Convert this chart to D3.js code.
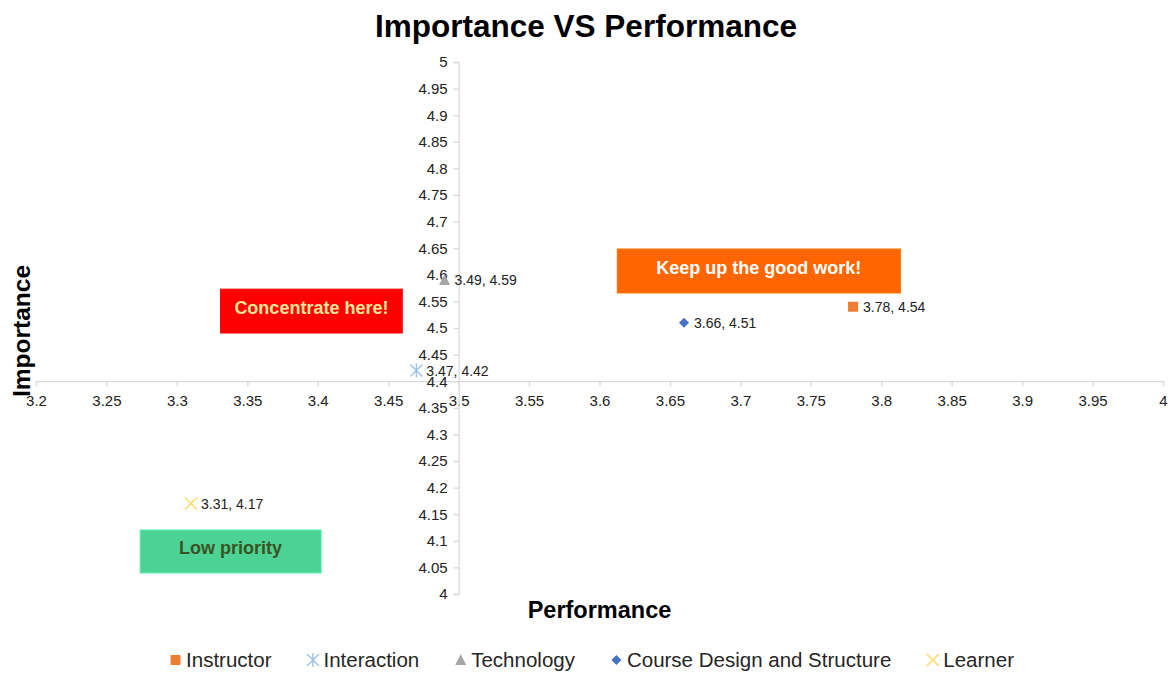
<!DOCTYPE html>
<html>
<head>
<meta charset="utf-8">
<script src="https://cdn.jsdelivr.net/npm/d3@7"></script>
<style>
  html, body { margin: 0; padding: 0; background: #fff; }
  svg { display: block; font-family: "Liberation Sans", Arial, Helvetica, sans-serif; }
</style>
</head>
<body>
<svg id="chart" width="1171" height="673"></svg>
<script>
// ---- Data ----
const seriesNames = ["Instructor", "Interaction", "Technology", "Course Design and Structure", "Learner"];
const performance = [3.78, 3.47, 3.49, 3.66, 3.31];
const importance = [4.54, 4.42, 4.59, 4.51, 4.17];
const xTicks = [3.2, 3.25, 3.3, 3.35, 3.4, 3.45, 3.5, 3.55, 3.6, 3.65, 3.7, 3.75, 3.8, 3.85, 3.9, 3.95, 4];
const yTicks = [4, 4.05, 4.1, 4.15, 4.2, 4.25, 4.3, 4.35, 4.4, 4.45, 4.5, 4.55, 4.6, 4.65, 4.7, 4.75, 4.8, 4.85, 4.9, 4.95, 5];
const annotationTexts = ["Concentrate here!", "Keep up the good work!", "Low priority"];
const annotationX0 = [3.331, 3.6126, 3.2739];
const annotationX1 = [3.46, 3.8136, 3.4024];
const annotationY0 = [4.4906, 4.5658, 4.0395];
const annotationY1 = [4.573, 4.6485, 4.1203];

// ---- Styles ----
const seriesColors = ["#ED7D31", "#9DC3E6", "#A5A5A5", "#4472C4", "#FFD966"];
const seriesShapes = ["square", "asterisk", "triangle", "diamond", "cross"];
const annotationFill = ["#FF0000", "#FF6600", "#4CD295"];
const annotationTextColor = ["#FFE699", "#FFFFFF", "#3B5323"];

const svg = d3.select("#chart");
const plot = { left: 36, right: 1163, top: 62, bottom: 594 };

const x = d3.scaleLinear().domain([3.2, 4]).range([plot.left, plot.right]);
const y = d3.scaleLinear().domain([4, 5]).range([plot.bottom, plot.top]);
const fmt = d => String(+d.toFixed(2));

// Title
svg.append("text")
  .attr("x", 586).attr("y", 37)
  .attr("text-anchor", "middle")
  .style("font-size", "31.5px").style("font-weight", "bold").style("fill", "#000")
  .text("Importance VS Performance");

// Axes
const axisColor = "#D9D9D9";
const xAxis = svg.append("g")
  .attr("transform", `translate(0,${y(4.4)})`)
  .call(d3.axisBottom(x).tickValues(xTicks).tickFormat(fmt).tickSize(5).tickPadding(9));
const yAxis = svg.append("g")
  .attr("transform", `translate(${x(3.5)},0)`)
  .call(d3.axisLeft(y).tickValues(yTicks).tickFormat(fmt).tickSize(5).tickPadding(6));
[xAxis, yAxis].forEach(g => {
  g.select(".domain").attr("stroke", axisColor).attr("stroke-width", 1.3);
  g.selectAll(".tick line").attr("stroke", axisColor).attr("stroke-width", 1.3);
  g.selectAll(".tick text").style("font-size", "15px").style("fill", "#222")
    .style("font-family", "'Liberation Sans', Arial, sans-serif");
});

// Axis titles
svg.append("text")
  .attr("x", x(3.6)).attr("y", 618)
  .attr("text-anchor", "middle")
  .style("font-size", "23.5px").style("font-weight", "bold").style("fill", "#000")
  .text("Performance");
svg.append("text")
  .attr("transform", `translate(30,${331}) rotate(-90)`)
  .attr("text-anchor", "middle")
  .style("font-size", "24.5px").style("font-weight", "bold").style("fill", "#000")
  .text("Importance");

// Annotation boxes
annotationTexts.forEach((t, i) => {
  const x0 = x(annotationX0[i]), x1 = x(annotationX1[i]);
  const yT = y(annotationY1[i]), yB = y(annotationY0[i]);
  svg.append("rect")
    .attr("x", x0).attr("y", yT)
    .attr("width", x1 - x0).attr("height", yB - yT)
    .attr("fill", annotationFill[i])
    .attr("stroke", d3.color(annotationFill[i]).brighter(0.4)).attr("stroke-width", 1);
  svg.append("text")
    .attr("x", (x0 + x1) / 2).attr("y", (yT + yB) / 2 + 3)
    .attr("text-anchor", "middle")
    .style("font-size", "18px").style("font-weight", "bold")
    .style("fill", annotationTextColor[i])
    .text(t);
});

// Marker drawing
function drawMarker(g, shape, color, cx, cy, s) {
  const h = s / 2;
  if (shape === "square") {
    g.append("rect").attr("x", cx - h).attr("y", cy - h).attr("width", s).attr("height", s).attr("fill", color);
  } else if (shape === "triangle") {
    g.append("path").attr("d", `M${cx},${cy - h - 1}L${cx + h + 0.5},${cy + h}L${cx - h - 0.5},${cy + h}Z`).attr("fill", color);
  } else if (shape === "diamond") {
    g.append("path").attr("d", `M${cx},${cy - h}L${cx + h},${cy}L${cx},${cy + h}L${cx - h},${cy}Z`).attr("fill", color);
  } else if (shape === "asterisk") {
    const r = h + 1;
    g.append("path")
      .attr("d", `M${cx - r},${cy - r}L${cx + r},${cy + r}M${cx - r},${cy + r}L${cx + r},${cy - r}M${cx},${cy - r - 1}L${cx},${cy + r + 1}`)
      .attr("stroke", color).attr("stroke-width", 1.4).attr("fill", "none");
  } else if (shape === "cross") {
    const r = h + 1;
    g.append("path")
      .attr("d", `M${cx - r},${cy - r}L${cx + r},${cy + r}M${cx - r},${cy + r}L${cx + r},${cy - r}`)
      .attr("stroke", color).attr("stroke-width", 1.4).attr("fill", "none");
  }
}

// Points and labels
const pts = svg.append("g");
seriesNames.forEach((n, i) => {
  const cx = x(performance[i]), cy = y(importance[i]);
  drawMarker(pts, seriesShapes[i], seriesColors[i], cx, cy, 10);
  pts.append("text")
    .attr("x", cx + 10).attr("y", cy + 5)
    .style("font-size", "14px").style("fill", "#222")
    .text(`${performance[i].toFixed(2)}, ${importance[i].toFixed(2)}`);
});

// Legend
const legend = svg.append("g");
let cursor = 0;
seriesNames.forEach((n, i) => {
  const g = legend.append("g");
  const t = g.append("text").attr("x", cursor + 16).attr("y", 7)
    .style("font-size", "20.5px").style("fill", "#262626").text(n);
  drawMarker(g, seriesShapes[i], seriesColors[i], cursor + 5.5, 0, 10);
  const w = t.node().getComputedTextLength();
  cursor += 16 + w + 36;
});
const totalW = cursor - 36;
legend.attr("transform", `translate(${592 - totalW / 2},660)`);
</script>
</body>
</html>
